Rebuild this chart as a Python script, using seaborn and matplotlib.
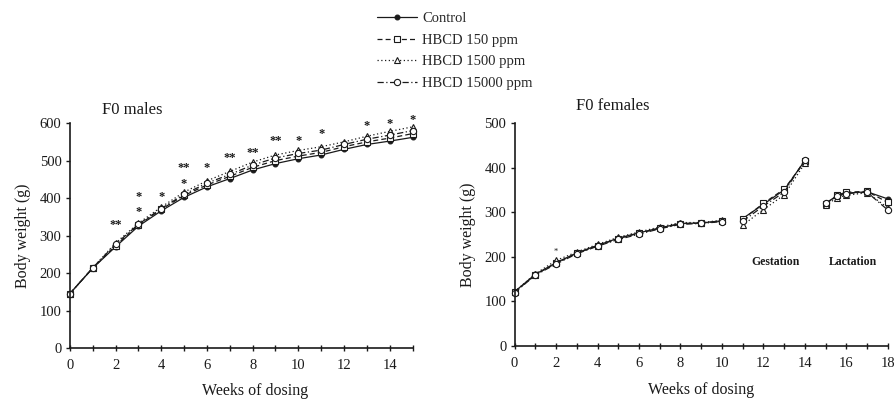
import numpy as np
import pandas as pd
import matplotlib
matplotlib.use("Agg")
import matplotlib.pyplot as plt
import seaborn as sns

# ---------------- data ---------------- #
groups = ["Control", "HBCD 150 ppm", "HBCD 1500 ppm", "HBCD 15000 ppm"]

male_weeks = list(range(16))
male_control = [145, 213, 270, 325, 366, 402, 430, 452, 475, 492, 505, 515, 530, 543, 552, 562]
male_150 = [145, 213, 273, 328, 370, 407, 435, 458, 482, 500, 512, 522, 537, 550, 560, 572]
male_1500 = [145, 214, 280, 333, 376, 416, 446, 471, 496, 515, 527, 537, 550, 565, 578, 590]
male_15000 = [145, 214, 277, 330, 372, 410, 440, 463, 488, 507, 519, 528, 543, 557, 568, 580]

# significance marks (males)
star_weeks = [2, 3, 3, 4, 5, 5, 6, 7, 8, 9, 10, 11, 13, 14, 15]
star_levels = [328, 403, 362, 403, 480, 437, 480, 507, 520, 552, 552, 571, 592, 597, 608]
star_text = ["**", "*", "*", "*", "**", "*", "*", "**", "**", "**", "*", "*", "*", "*", "*"]

# females: pre-mating, gestation, lactation
fem_pre_weeks = list(range(11))
fem_pre_control = [122, 161, 187, 209, 226, 242, 254, 265, 275, 276, 281]
fem_pre_150 = [121, 160, 186, 208, 225, 241, 253, 264, 274, 276, 280]
fem_pre_1500 = [122, 162, 192, 211, 228, 244, 256, 267, 277, 277, 282]
fem_pre_15000 = [120, 159, 184, 207, 224, 239, 251, 263, 273, 275, 279]

fem_gest_weeks = [11, 12, 13, 14]
fem_gest_control = [286, 318, 350, 416]
fem_gest_150 = [284, 320, 352, 414]
fem_gest_1500 = [271, 306, 339, 410]
fem_gest_15000 = [280, 314, 345, 418]

fem_lact_weeks = [15, 15.57, 16, 17, 18]
fem_lact_control = [321, 337, 343, 346, 330]
fem_lact_150 = [318, 339, 345, 347, 322]
fem_lact_1500 = [316, 333, 338, 344, 310]
fem_lact_15000 = [320, 336, 342, 345, 305]

fem_star_weeks = [2]
fem_star_levels = [212]

# ---------------- styling ---------------- #
sns.set_theme(style="ticks")
plt.rcParams["font.family"] = ["Liberation Serif", "DejaVu Serif"]
ink = "#1a1a1a"

styles = {
    "Control": dict(linestyle="-", marker="o", markersize=3.5, markerfacecolor=ink),
    "HBCD 150 ppm": dict(linestyle=(0, (4, 2.5)), marker="s", markersize=5, markerfacecolor="white"),
    "HBCD 1500 ppm": dict(linestyle=(0, (1, 2)), marker="^", markersize=4.5, markerfacecolor="white"),
    "HBCD 15000 ppm": dict(linestyle=(0, (5, 2, 1, 2)), marker="o", markersize=4.5, markerfacecolor="white"),
}

males = {"Control": male_control, "HBCD 150 ppm": male_150,
         "HBCD 1500 ppm": male_1500, "HBCD 15000 ppm": male_15000}
fem_segments = [
    (fem_pre_weeks, {"Control": fem_pre_control, "HBCD 150 ppm": fem_pre_150,
                     "HBCD 1500 ppm": fem_pre_1500, "HBCD 15000 ppm": fem_pre_15000}),
    (fem_gest_weeks, {"Control": fem_gest_control, "HBCD 150 ppm": fem_gest_150,
                      "HBCD 1500 ppm": fem_gest_1500, "HBCD 15000 ppm": fem_gest_15000}),
    (fem_lact_weeks, {"Control": fem_lact_control, "HBCD 150 ppm": fem_lact_150,
                      "HBCD 1500 ppm": fem_lact_1500, "HBCD 15000 ppm": fem_lact_15000}),
]

fig = plt.figure(figsize=(8.95, 4.01), dpi=100)
ax1 = fig.add_axes([0.078, 0.132, 0.383, 0.561])
ax2 = fig.add_axes([0.575, 0.137, 0.417, 0.556])

# ---------------- males ---------------- #
for g in groups:
    df = pd.DataFrame({"week": male_weeks, "weight": males[g]})
    sns.lineplot(data=df, x="week", y="weight", ax=ax1, color=ink, linewidth=0.9,
                 markeredgecolor=ink, markeredgewidth=0.8, label=g, clip_on=False, **styles[g])

for w, lvl, t in zip(star_weeks, star_levels, star_text):
    ax1.text(w, lvl, t, ha="center", va="center", fontsize=9, fontweight="bold",
             color=ink, clip_on=False)

ax1.set_xlim(0, 15)
ax1.set_ylim(0, 600)
ax1.set_xticks(range(0, 16, 2))
ax1.set_xticks(range(16), minor=True)
ax1.set_yticks(range(0, 601, 100))
ax1.set_ylabel("Body weight (g)", fontsize=11.5, color=ink, labelpad=6)
ax1.set_xlabel("Weeks of dosing", fontsize=11.5, color=ink)
ax1.xaxis.set_label_coords(0.54, -0.155)
ax1.text(0.093, 1.04, "F0 males", transform=ax1.transAxes, fontsize=12, color=ink)
handles, labels = ax1.get_legend_handles_labels()
ax1.get_legend().remove()

# ---------------- females ---------------- #
for weeks, seg in fem_segments:
    for g in groups:
        df = pd.DataFrame({"week": weeks, "weight": seg[g]})
        sns.lineplot(data=df, x="week", y="weight", ax=ax2, color=ink, linewidth=0.9,
                     markeredgecolor=ink, markeredgewidth=0.8, clip_on=False, **styles[g])

for w, lvl in zip(fem_star_weeks, fem_star_levels):
    ax2.text(w, lvl, "*", ha="center", va="center", fontsize=6, color=ink)

ax2.text(12.6, 188, "Gestation", ha="center", va="center", fontsize=8.5, fontweight="bold", color=ink)
ax2.text(16.3, 188, "Lactation", ha="center", va="center", fontsize=8.5, fontweight="bold", color=ink)

ax2.set_xlim(0, 18)
ax2.set_ylim(0, 500)
ax2.set_xticks(range(0, 19, 2))
ax2.set_xticks(range(19), minor=True)
ax2.set_yticks(range(0, 501, 100))
ax2.set_ylabel("Body weight (g)", fontsize=11.5, color=ink, labelpad=6)
ax2.set_xlabel("Weeks of dosing", fontsize=11.5, color=ink)
ax2.xaxis.set_label_coords(0.5, -0.16)
ax2.text(0.165, 1.06, "F0 females", transform=ax2.transAxes, fontsize=12, color=ink)

for ax in (ax1, ax2):
    sns.despine(ax=ax)
    for sp in ("left", "bottom"):
        ax.spines[sp].set_color(ink)
        ax.spines[sp].set_linewidth(1.2)
    ax.tick_params(axis="x", which="both", direction="inout", length=4, width=1, colors=ink,
                   labelsize=10.5, pad=6)
    ax.tick_params(axis="y", direction="out", length=3, width=1, colors=ink, labelsize=10.5, pad=3)

fig.legend(handles, labels, loc="upper left", bbox_to_anchor=(0.415, 0.985), frameon=False,
           fontsize=10.5, handlelength=2.7, handletextpad=0.4, labelspacing=0.58, borderaxespad=0)

fig.savefig("out.png", dpi=100)
